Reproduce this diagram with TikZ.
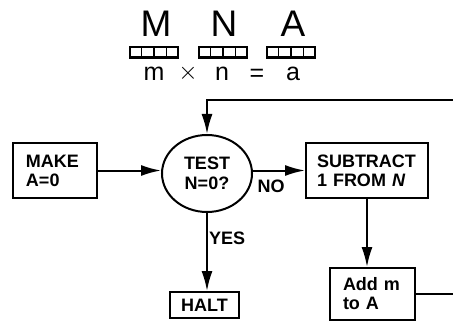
\documentclass[tikz,border=0pt]{standalone}
\usepackage{fontspec}
\setmainfont{Liberation Sans}
\usetikzlibrary{arrows.meta,positioning,shapes.geometric,calc}

\begin{document}
\begin{tikzpicture}[
  x=1pt,y=-1pt,
  >={Latex[length=20pt,width=11pt]},
  flow/.style={draw,line width=2pt},
  box/.style={draw,line width=2pt,inner xsep=13pt,inner ysep=0pt,align=left,
    font=\fontsize{18}{19}\selectfont\bfseries},
  test/.style={ellipse,draw,line width=2pt,minimum width=90pt,minimum height=77pt,
    inner sep=0pt,align=center,font=\fontsize{18}{20}\selectfont\bfseries},
  reg/.style={draw,line width=1.8pt,minimum width=48pt,minimum height=10pt,inner sep=0pt},
  big/.style={font=\fontsize{37}{40}\selectfont,inner sep=0pt},
  small/.style={font=\fontsize{25}{28}\selectfont,inner sep=0pt},
  lbl/.style={font=\fontsize{18}{18}\selectfont\bfseries,inner sep=1pt}
]
\path[use as bounding box,clip] (0,0) rectangle (453,321);

% registers
\node[big,anchor=base] (nameM) at (156,37) {M};
\node[big,anchor=base] (nameN) at (224,37) {N};
\node[big,anchor=base] (nameA) at (293,37) {A};
\node[reg] (regM) at (154,52) {};
\node[reg] (regN) at (223,52) {};
\node[reg] (regA) at (291,52) {};
\foreach \r in {regM,regN,regA} {
  \foreach \f in {0.25,0.5,0.75}
    \draw[line width=1.4pt] ($(\r.south west)!\f!(\r.south east)$) -- ($(\r.north west)!\f!(\r.north east)$);
  \draw[line width=2.6pt] (\r.south west) -- (\r.south east);
}
\node[small,anchor=base] (varM) at (154,81) {m};
\node[small,anchor=base] (times) at (188,80) {$\times$};
\node[small,anchor=base] (varN) at (222,81) {n};
\node[small,anchor=base] (equals) at (257,82) {=};
\node[small,anchor=base] (varA) at (293,81) {a};

% flow chart
\node[box,text width=58pt,minimum height=55pt] (make) at (55,170.5) {MAKE\\A=0};
\node[test] (test) at (207,173.5) {TEST\\N=0?};
\node[box,text width=100pt,minimum height=55pt,inner xsep=11pt] (sub) at (367,170.5) {SUBTRACT\\1 FROM \textit{N}};
\node[box,text width=59pt,minimum height=52pt] (add) at (372.5,294) {Add m\\to A};
\node[box,align=center,minimum width=69pt,minimum height=26pt,inner xsep=0pt] (halt) at (204.5,305) {HALT};
\coordinate (ret) at (470,100);

\draw[flow,->] (make.east) -- (test.west |- make.east);
\draw[flow,->] (test.east |- sub.west) -- node[lbl,pos=0.35,below=7pt] (no) {NO} (sub.west);
\draw[flow,->] (test.south) -- node[lbl,pos=0.33,anchor=west] (yes) {YES} (test.south |- halt.north);
\draw[flow,->] (sub.south) -- (sub.south |- add.north);
\draw[flow,->] (add.east) -| (ret) -| (test.north);
\end{tikzpicture}
\end{document}
